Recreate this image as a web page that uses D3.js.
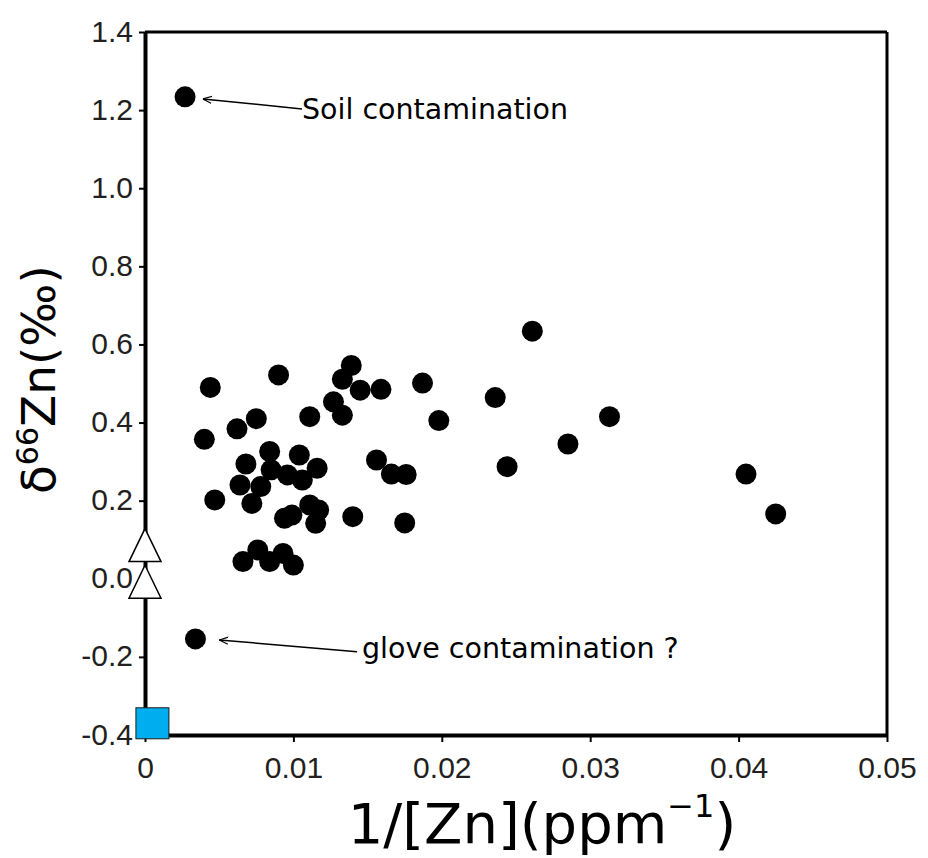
<!DOCTYPE html>
<html>
<head>
<meta charset="utf-8">
<script src="https://cdn.jsdelivr.net/npm/d3@7"></script>
<style>
  body { margin: 0; background: #fff; }
</style>
</head>
<body>
<div id="chart"></div>
<script>
// samples: 1/[Zn] (ppm^-1) and d66Zn (permil)
const sampleX = [0.0027, 0.0034, 0.0261, 0.0044, 0.0090, 0.0139, 0.0133, 0.0145, 0.0159, 0.0187,
    0.0236, 0.0127, 0.0133, 0.0111, 0.0075, 0.0062, 0.0040, 0.0198, 0.0313, 0.0285,
    0.0244, 0.0084, 0.0104, 0.0068, 0.0156, 0.0166, 0.0176, 0.0405, 0.0425, 0.0116,
    0.0085, 0.0096, 0.0106, 0.0064, 0.0078, 0.0072, 0.0047, 0.0111, 0.0117, 0.0094,
    0.0099, 0.0115, 0.0140, 0.0175, 0.0076, 0.0066, 0.0084, 0.0093, 0.0100];
const sampleY = [1.234, -0.154, 0.634, 0.490, 0.522, 0.546, 0.511, 0.483, 0.485, 0.501,
    0.464, 0.453, 0.419, 0.415, 0.410, 0.384, 0.357, 0.405, 0.415, 0.345,
    0.287, 0.326, 0.317, 0.294, 0.304, 0.268, 0.267, 0.268, 0.166, 0.283,
    0.279, 0.266, 0.253, 0.240, 0.236, 0.193, 0.202, 0.189, 0.176, 0.155,
    0.163, 0.142, 0.159, 0.143, 0.074, 0.044, 0.044, 0.065, 0.035];

// reference materials
const triangleX = [0, 0];
const triangleY = [0.085, -0.009];
const squareX = [0.0005];
const squareY = [-0.37];

const xTicks = [0, 0.01, 0.02, 0.03, 0.04, 0.05];
const xTickLabels = ["0", "0.01", "0.02", "0.03", "0.04", "0.05"];
const yTicks = [-0.4, -0.2, 0, 0.2, 0.4, 0.6, 0.8, 1.0, 1.2, 1.4];
const yTickLabels = ["-0.4", "-0.2", "0.0", "0.2", "0.4", "0.6", "0.8", "1.0", "1.2", "1.4"];

// annotations: text anchor, arrow tail, arrow tip (data units)
const noteText = ["Soil contamination", "glove contamination ?"];
const noteTextX = [0.01058, 0.01462];
const noteTextY = [1.177, -0.203];
const noteTailX = [0.01058, 0.01429];
const noteTailY = [1.203, -0.187];
const noteTipX = [0.0039, 0.0050];
const noteTipY = [1.2285, -0.1566];

var margin = { top: 32, right: 41, bottom: 123, left: 145 },
    width = 928 - margin.left - margin.right,
    height = 858 - margin.top - margin.bottom;

var svg = d3.select("#chart")
    .append("svg")
    .attr("width", 928)
    .attr("height", 858)
    .append("g")
    .attr("transform", "translate(" + margin.left + "," + margin.top + ")");

svg.append("defs").append("marker")
    .attr("id", "arrow")
    .attr("viewBox", "0 0 10 10")
    .attr("refX", 10).attr("refY", 5)
    .attr("markerWidth", 9).attr("markerHeight", 9)
    .attr("markerUnits", "userSpaceOnUse")
    .attr("orient", "auto")
    .append("path")
    .attr("d", "M0,1 L10,5 L0,9")
    .attr("fill", "none")
    .attr("stroke", "#000")
    .attr("stroke-width", 1.3);

var x = d3.scaleLinear().domain([0, 0.05]).range([0, width]);
var y = d3.scaleLinear().domain([-0.4, 1.4]).range([height, 0]);

// frame top / right
svg.append("line").attr("x1", 0).attr("x2", width).attr("y1", 0).attr("y2", 0)
    .attr("stroke", "#000").attr("stroke-width", 3);
svg.append("line").attr("x1", width).attr("x2", width).attr("y1", 0).attr("y2", height)
    .attr("stroke", "#000").attr("stroke-width", 3);

var xAxis = svg.append("g")
    .attr("transform", "translate(0," + height + ")")
    .call(d3.axisBottom(x).tickValues(xTicks).tickSize(7).tickSizeOuter(0).tickPadding(7)
        .tickFormat((d, i) => xTickLabels[i]));
var yAxis = svg.append("g")
    .call(d3.axisLeft(y).tickValues(yTicks).tickSize(6).tickSizeOuter(0).tickPadding(6)
        .tickFormat((d, i) => yTickLabels[i]));

xAxis.select(".domain").attr("stroke-width", 4);
yAxis.select(".domain").attr("stroke-width", 4);
[xAxis, yAxis].forEach(function (a) {
    a.selectAll(".tick line").attr("stroke-width", 2);
    a.selectAll("text")
        .attr("font-family", "'Liberation Sans', Arial, sans-serif")
        .attr("font-size", 30)
        .attr("fill", "#231f20");
});
yAxis.selectAll("text").attr("dy", "0.3em");
xAxis.selectAll("text").attr("dy", "0.95em");

// axis titles
var xt = svg.append("text")
    .attr("x", width / 2 + 26)
    .attr("y", height + 108)
    .attr("text-anchor", "middle")
    .attr("font-family", "'DejaVu Sans', sans-serif")
    .attr("font-size", 56)
    .attr("fill", "#000");
xt.append("tspan").text("1/[Zn](ppm");
xt.append("tspan").attr("font-size", 32).attr("dy", -26).text("\u22121");
xt.append("tspan").attr("dy", 26).text(")");

var yt = svg.append("text")
    .attr("transform", "translate(" + (-90) + "," + (y(0.51)) + ") rotate(-90)")
    .attr("text-anchor", "middle")
    .attr("font-family", "'DejaVu Sans', sans-serif")
    .attr("font-size", 47)
    .attr("fill", "#000");
yt.append("tspan").text("\u03b4");
yt.append("tspan").attr("font-size", 30).attr("dy", -17).text("66");
yt.append("tspan").attr("dy", 17).text("Zn(\u2030)");

// annotations
noteText.forEach(function (t, i) {
    svg.append("line")
        .attr("x1", x(noteTailX[i])).attr("y1", y(noteTailY[i]))
        .attr("x2", x(noteTipX[i])).attr("y2", y(noteTipY[i]))
        .attr("stroke", "#000").attr("stroke-width", 1.5)
        .attr("marker-end", "url(#arrow)");
    svg.append("text")
        .attr("x", x(noteTextX[i])).attr("y", y(noteTextY[i]))
        .attr("font-family", "'DejaVu Sans', sans-serif")
        .attr("font-size", 28.5)
        .attr("fill", "#000")
        .text(t);
});

// samples
svg.append("g")
    .selectAll("circle")
    .data(sampleX.map((v, i) => [v, sampleY[i]]))
    .enter().append("circle")
    .attr("cx", d => x(d[0]))
    .attr("cy", d => y(d[1]))
    .attr("r", 10.5)
    .attr("fill", "#000");

// triangles
svg.append("g")
    .selectAll("path")
    .data(triangleX.map((v, i) => [v, triangleY[i]]))
    .enter().append("path")
    .attr("d", function (d) {
        var cx = x(d[0]), cy = y(d[1]);
        return "M" + cx + "," + (cy - 17) + "L" + (cx + 16) + "," + (cy + 16) + "L" + (cx - 16) + "," + (cy + 16) + "Z";
    })
    .attr("fill", "#fff")
    .attr("stroke", "#000")
    .attr("stroke-width", 1.5);

// square
svg.append("g")
    .selectAll("rect")
    .data(squareX.map((v, i) => [v, squareY[i]]))
    .enter().append("rect")
    .attr("x", d => x(d[0]) - 16.5)
    .attr("y", d => y(d[1]) - 15.5)
    .attr("width", 33)
    .attr("height", 31)
    .attr("fill", "#00aeef")
    .attr("stroke", "#1a1a1a")
    .attr("stroke-width", 1);
</script>
</body>
</html>
